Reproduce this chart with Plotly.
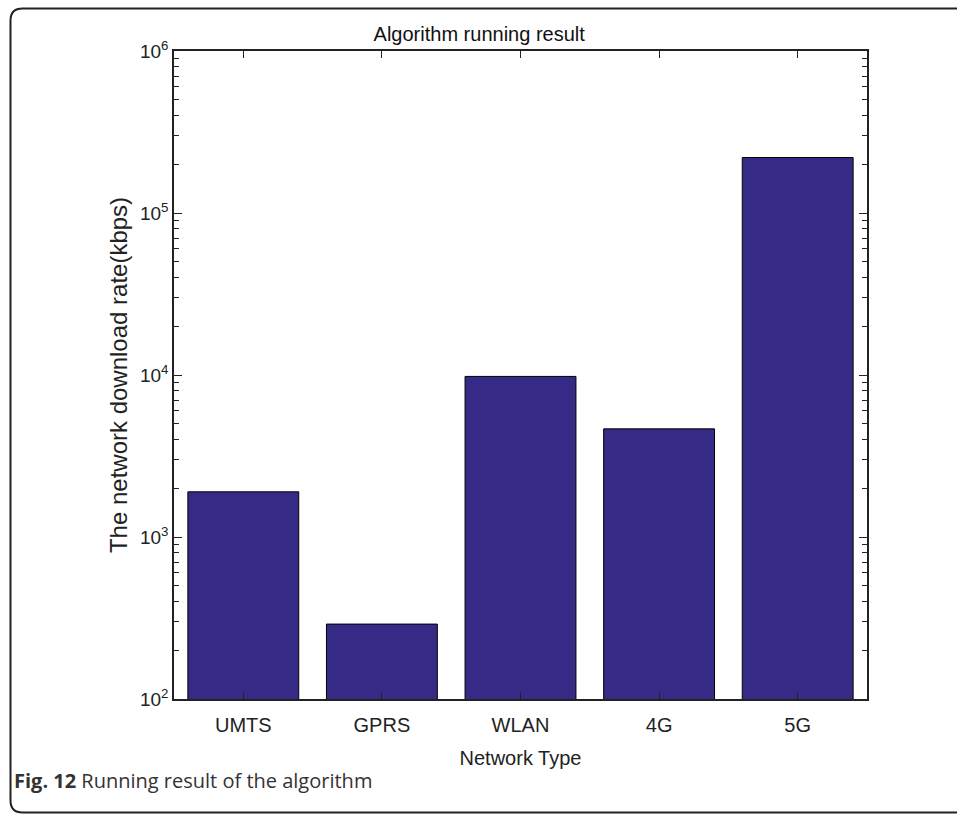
import plotly.graph_objects as go

categories = ["UMTS", "GPRS", "WLAN", "4G", "5G"]
rates = [1900, 290, 9800, 4650, 220000]
ytick_vals = [1e2, 1e3, 1e4, 1e5, 1e6]
ytick_text = ["10<sup>2</sup>", "10<sup>3</sup>", "10<sup>4</sup>", "10<sup>5</sup>", "10<sup>6</sup>"]

W, H = 957, 814
L, R, T, B = 174, 90, 51, 115
pw, ph = W - L - R, H - T - B

def px(x):
    return (x - L) / pw

def py(y):
    return (H - B - y) / ph

fig = go.Figure()
fig.add_trace(go.Bar(
    x=categories, y=rates, width=0.8,
    marker=dict(color="#352A86", line=dict(color="black", width=1)),
))

font = "Liberation Sans, Arial, sans-serif"
fig.update_layout(
    width=W, height=H,
    margin=dict(l=L, r=R, t=T, b=B, autoexpand=False),
    paper_bgcolor="white", plot_bgcolor="white",
    showlegend=False,
    font=dict(family=font, size=20, color="#222"),
    title=dict(text="Algorithm running result", x=px(521), xanchor="center",
               y=1 - 34 / H, yanchor="middle", font=dict(size=20, color="#111")),
)
fig.update_xaxes(
    range=[-0.5, 4.5], showline=True, linecolor="#222", linewidth=1.5, mirror="ticks",
    ticks="inside", ticklen=7, tickcolor="#222", tickfont=dict(size=20),
    ticklabelstandoff=7,
    title=dict(text="Network Type", font=dict(size=20), standoff=16),
    showgrid=False, zeroline=False,
)
fig.update_yaxes(
    type="log", range=[2, 6], showline=True, linecolor="#222", linewidth=1.5, mirror="ticks",
    ticks="inside", ticklen=8, tickcolor="#222",
    tickvals=ytick_vals, ticktext=ytick_text, tickfont=dict(size=19),
    minor=dict(ticks="inside", ticklen=5, tickcolor="#222", dtick="D1", showgrid=False),
    title=dict(text="The network download rate(kbps)", font=dict(size=24), standoff=6),
    showgrid=False, zeroline=False,
)

# outer figure frame with rounded left corners
x0, x1, y0, y1, r = px(10.5), px(970), py(8.5), py(812.5), 12
rx, ry = r / pw, r / ph
path = (f"M {x1},{y0} L {x0 + rx},{y0} Q {x0},{y0} {x0},{y0 - ry} "
        f"L {x0},{y1 + ry} Q {x0},{y1} {x0 + rx},{y1} L {x1},{y1}")
fig.add_shape(type="path", path=path, xref="paper", yref="paper",
              line=dict(color="#222", width=2), layer="above")

fig.add_annotation(
    text="<b>Fig. 12</b> Running result of the algorithm",
    xref="paper", yref="paper", x=px(12), y=py(781), xanchor="left", yanchor="middle",
    showarrow=False, font=dict(family="Open Sans, Noto Sans, sans-serif", size=20, color="#333"),
)

fig.write_html("out.html", config={"displayModeBar": False},
               post_script="document.body.style.margin='0';")
